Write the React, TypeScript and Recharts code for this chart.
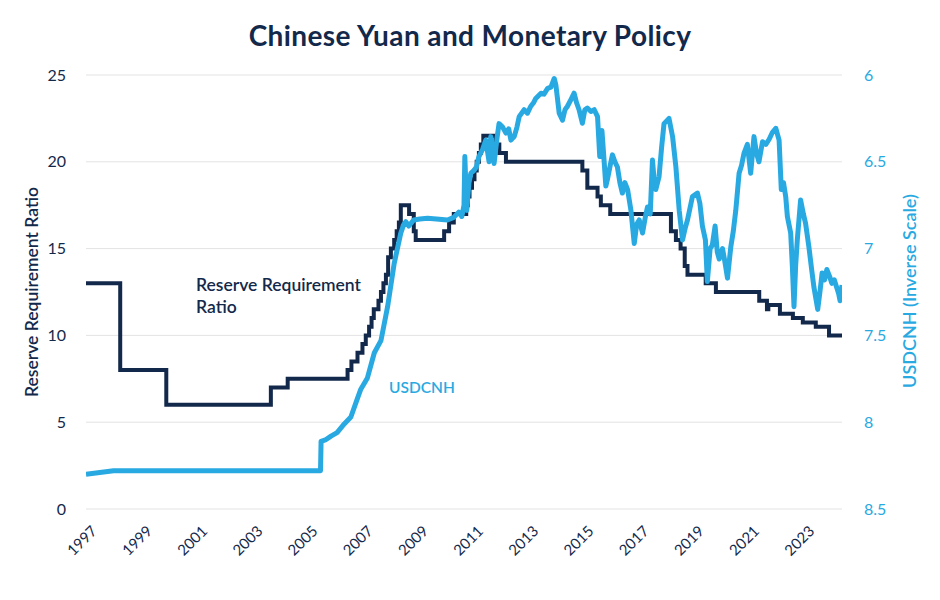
import React from 'react';
import { LineChart, Line, XAxis, YAxis, CartesianGrid } from 'recharts';

const NAVY = '#13294b';
const BLUE = '#29a9e1';
const FONT = 'Lato, "Noto Sans", sans-serif';

// x axis ticks (years)
const yearTicks = [1997, 1999, 2001, 2003, 2005, 2007, 2009, 2011, 2013, 2015, 2017, 2019, 2021, 2023];
const rrrTicks = [0, 5, 10, 15, 20, 25];
const cnhTicks = [6, 6.5, 7, 7.5, 8, 8.5];

// Reserve requirement ratio, step changes (decimal year, %)
const rrrYears = [
  1997.0, 1998.24, 1999.91, 2003.7, 2004.31, 2006.48, 2006.62, 2006.84, 2007.02, 2007.14,
  2007.26, 2007.35, 2007.43, 2007.6, 2007.69, 2007.78, 2007.87, 2007.95, 2008.05, 2008.17,
  2008.26, 2008.34, 2008.41, 2008.71, 2008.88, 2008.95, 2009.98, 2010.16, 2010.33, 2010.78,
  2010.84, 2010.9, 2010.99, 2011.08, 2011.16, 2011.24, 2011.31, 2011.4, 2011.84, 2011.98,
  2012.22, 2014.99, 2015.17, 2015.54, 2015.66, 2016.0, 2018.2, 2018.38, 2018.55, 2018.7,
  2018.8, 2019.46, 2019.83, 2021.4, 2021.68, 2021.73, 2022.15, 2022.62, 2022.98, 2023.45,
  2023.93, 2024.4,
];
const rrrValues = [
  13, 8, 6, 7, 7.5, 8, 8.5, 9, 9.5, 10,
  10.5, 11, 11.5, 12, 12.5, 13, 13.5, 14.5, 15, 15.5,
  16, 16.5, 17.5, 17, 16, 15.5, 16, 16.5, 17, 17.5,
  18, 18.5, 19, 19.5, 20, 20.5, 21, 21.5, 21, 20.5,
  20, 19.5, 18.5, 18, 17.5, 17, 16, 15.5, 15, 14,
  13.5, 13, 12.5, 12, 11.5, 11.75, 11.25, 11, 10.75, 10.5,
  10, 10,
];

// USDCNH (decimal year, rate)
const cnhYears = [
  1997.0, 1997.5, 1998.0, 1999.0, 2000.0, 2001.0, 2002.0, 2003.0, 2004.0, 2005.0,
  2005.5, 2005.52, 2005.7, 2005.88, 2006.1, 2006.36, 2006.6, 2006.8, 2006.96, 2007.2,
  2007.45, 2007.69, 2007.93, 2008.17, 2008.41, 2008.52, 2008.59, 2008.7, 2008.88, 2009.1,
  2009.38, 2009.7, 2010.1, 2010.33, 2010.51, 2010.62, 2010.7, 2010.73, 2010.8, 2010.88,
  2010.95, 2011.06, 2011.15, 2011.24, 2011.37, 2011.49, 2011.61, 2011.67, 2011.79, 2011.9,
  2011.97, 2012.1, 2012.22, 2012.32, 2012.4, 2012.52, 2012.62, 2012.7, 2012.88, 2013.0,
  2013.12, 2013.22, 2013.3, 2013.49, 2013.6, 2013.73, 2013.85, 2013.97, 2014.03, 2014.15,
  2014.27, 2014.36, 2014.45, 2014.58, 2014.69, 2014.78, 2014.87, 2014.99, 2015.08, 2015.17,
  2015.3, 2015.42, 2015.54, 2015.62, 2015.7, 2015.78, 2015.84, 2015.9, 2016.0, 2016.08,
  2016.17, 2016.26, 2016.35, 2016.44, 2016.53, 2016.63, 2016.75, 2016.87, 2016.96, 2017.05,
  2017.17, 2017.27, 2017.35, 2017.45, 2017.53, 2017.6, 2017.65, 2017.77, 2017.86, 2017.95,
  2018.13, 2018.26, 2018.38, 2018.5, 2018.62, 2018.72, 2018.8, 2018.98, 2019.16, 2019.25,
  2019.34, 2019.45, 2019.52, 2019.62, 2019.7, 2019.8, 2019.88, 2019.95, 2020.07, 2020.16,
  2020.25, 2020.37, 2020.46, 2020.55, 2020.67, 2020.76, 2020.85, 2020.97, 2021.09, 2021.21,
  2021.3, 2021.39, 2021.52, 2021.64, 2021.76, 2021.88, 2022.0, 2022.12, 2022.2, 2022.28,
  2022.36, 2022.42, 2022.54, 2022.6, 2022.66, 2022.72, 2022.78, 2022.9, 2023.0, 2023.08,
  2023.2, 2023.3, 2023.38, 2023.52, 2023.6, 2023.68, 2023.77, 2023.85, 2023.95, 2024.03,
  2024.12, 2024.2, 2024.28, 2024.33, 2024.4,
];
const cnhValues = [
  8.3, 8.29, 8.28, 8.28, 8.28, 8.28, 8.28, 8.28, 8.28, 8.28,
  8.28, 8.11, 8.1, 8.08, 8.06, 8.01, 7.97, 7.88, 7.81, 7.745,
  7.6, 7.53, 7.335, 7.085, 6.91, 6.86, 6.845, 6.87, 6.835, 6.83,
  6.825, 6.83, 6.835, 6.82, 6.79, 6.815, 6.75, 6.47, 6.78, 6.62,
  6.565, 6.55, 6.53, 6.47, 6.43, 6.375, 6.5, 6.355, 6.51, 6.36,
  6.28, 6.3, 6.335, 6.31, 6.375, 6.355, 6.3, 6.24, 6.2, 6.22,
  6.18, 6.16, 6.135, 6.105, 6.11, 6.077, 6.07, 6.02, 6.058, 6.22,
  6.26, 6.2, 6.18, 6.14, 6.105, 6.16, 6.2, 6.278, 6.2, 6.19,
  6.21, 6.2, 6.24, 6.47, 6.32, 6.5, 6.64, 6.6, 6.52, 6.46,
  6.5, 6.53, 6.62, 6.68, 6.62, 6.66, 6.78, 6.97, 6.86, 6.835,
  6.91, 6.82, 6.76, 6.8, 6.49, 6.62, 6.66, 6.585, 6.42, 6.28,
  6.25, 6.355, 6.53, 6.78, 6.95, 6.88, 6.835, 6.7, 6.68, 6.74,
  6.87, 6.95, 7.19, 7.0, 6.98, 6.87, 7.02, 7.06, 7.0, 7.08,
  7.17, 6.99, 6.9, 6.78, 6.566, 6.52, 6.45, 6.4, 6.566, 6.355,
  6.45, 6.5, 6.384, 6.4, 6.37, 6.33, 6.307, 6.375, 6.66, 6.62,
  6.7, 6.815, 6.91, 7.1, 7.335, 7.1, 6.95, 6.72, 6.8, 6.855,
  6.99, 7.12, 7.22, 7.35, 7.25, 7.14, 7.18, 7.12, 7.16, 7.2,
  7.18, 7.22, 7.26, 7.3, 7.21,
];

const rrrData = rrrYears.map((year, i) => ({ year, rrr: rrrValues[i] }));
const cnhData = cnhYears.map((year, i) => ({ year, cnh: cnhValues[i] }));

const YearTick = (props: any) => {
  const { x, y, payload } = props;
  const ax = x + 12;
  const ay = y + 15;
  return (
    <text
      x={ax}
      y={ay}
      transform={`rotate(-45 ${ax} ${ay})`}
      textAnchor="end"
      fill={NAVY}
      fontSize={15}
      fontFamily={FONT}
    >
      {payload.value}
    </text>
  );
};

const App: React.FC = () => {
  return (
    <div style={{ position: 'absolute', top: 0, left: 0, width: 940, height: 600, background: '#fff', fontFamily: FONT }}>
      <div
        style={{
          position: 'absolute', top: 18, left: 0, width: 940, textAlign: 'center',
          fontSize: 28, fontWeight: 700, color: NAVY, letterSpacing: 0.4,
        }}
      >
        Chinese Yuan and Monetary Policy
      </div>

      <LineChart width={940} height={600} margin={{ top: 75, right: 0, bottom: 31, left: 0 }}>
        <CartesianGrid vertical={false} stroke="#e3e3e3" strokeWidth={1} yAxisId="left" />
        <XAxis
          dataKey="year"
          type="number"
          domain={[1997, 2024.4]}
          ticks={yearTicks}
          allowDataOverflow
          axisLine={false}
          tickLine={false}
          height={60}
          interval={0}
          tick={<YearTick />}
        />
        <YAxis
          yAxisId="left"
          domain={[0, 25]}
          ticks={rrrTicks}
          width={86}
          axisLine={false}
          tickLine={false}
          tickMargin={14}
          tick={{ fill: NAVY, fontSize: 16, fontFamily: FONT }}
        />
        <YAxis
          yAxisId="right"
          orientation="right"
          reversed
          domain={[6, 8.5]}
          ticks={cnhTicks}
          width={98}
          axisLine={false}
          tickLine={false}
          tickMargin={16}
          tick={{ fill: BLUE, fontSize: 16, fontFamily: FONT }}
        />
        <Line
          yAxisId="left"
          data={rrrData}
          dataKey="rrr"
          type="stepAfter"
          stroke={NAVY}
          strokeWidth={4}
          dot={false}
          isAnimationActive={false}
        />
        <Line
          yAxisId="right"
          data={cnhData}
          dataKey="cnh"
          type="linear"
          stroke={BLUE}
          strokeWidth={5}
          strokeLinejoin="round"
          dot={false}
          isAnimationActive={false}
        />
      </LineChart>

      <div
        style={{
          position: 'absolute', left: 31, top: 292, transform: 'translate(-50%, -50%) rotate(-90deg)',
          whiteSpace: 'nowrap', fontSize: 17.5, fontWeight: 600, color: NAVY,
        }}
      >
        Reserve Requirement Ratio
      </div>
      <div
        style={{
          position: 'absolute', left: 909, top: 291, transform: 'translate(-50%, -50%) rotate(-90deg)',
          whiteSpace: 'nowrap', fontSize: 18, fontWeight: 600, color: BLUE,
        }}
      >
        USDCNH (Inverse Scale)
      </div>

      <div style={{ position: 'absolute', left: 196, top: 274, fontSize: 17.5, fontWeight: 600, color: NAVY, lineHeight: '22px' }}>
        Reserve Requirement
        <br />
        Ratio
      </div>
      <div style={{ position: 'absolute', left: 389, top: 378, fontSize: 15.5, fontWeight: 600, color: BLUE }}>
        USDCNH
      </div>
    </div>
  );
};

export default App;
